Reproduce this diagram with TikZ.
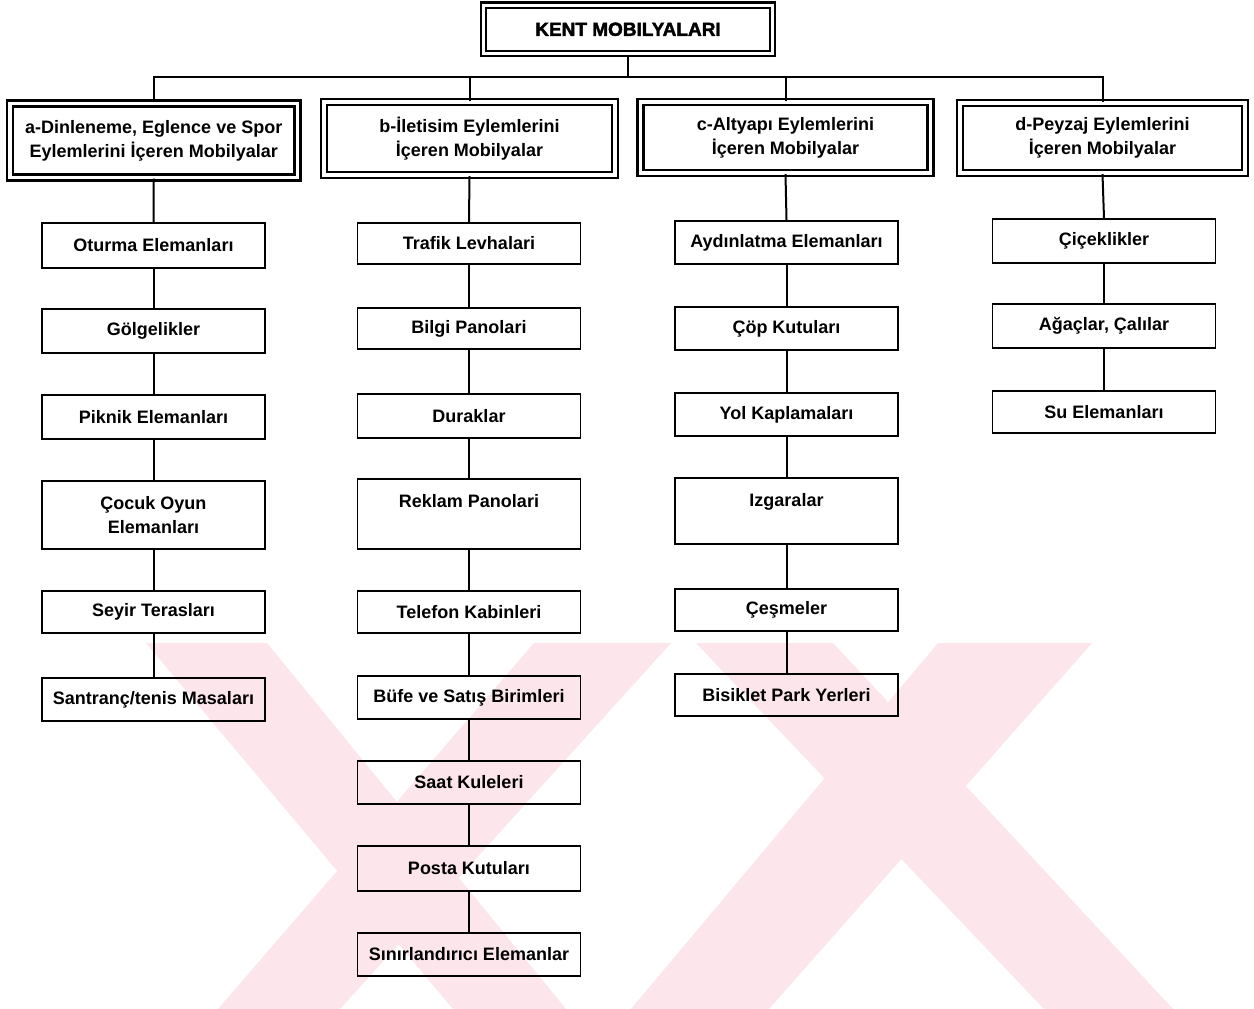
\documentclass[tikz,border=0pt]{standalone}
\usepackage{fontspec}
\setmainfont{Liberation Sans}
\newfontfamily\heavyfont{Liberation Sans Bold}[FakeBold=2.2]
\begin{document}
\begin{tikzpicture}[x=1pt,y=-1pt,
  wm/.style={fill={rgb,255:red,252;green,229;blue,235}, draw=none},
  conn/.style={line width=2pt},
  itembox/.style={draw, line width=1.8pt, minimum width=223pt, inner sep=0pt, align=center, anchor=north,
    font=\fontsize{18}{24}\selectfont\bfseries},
  catbox/.style={draw, double, double distance=3.5pt, line width=2.3pt, inner sep=0pt, align=center,
    font=\fontsize{18}{24}\selectfont\bfseries},
  titlebox/.style={draw, double, double distance=3pt, line width=2.2pt, inner sep=0pt, align=center,
    font=\fontsize{19}{24}\selectfont\heavyfont}
]
\useasboundingbox (0,0) rectangle (1254,1009);
\fill[white] (0,0) rectangle (1254,1009);
% watermark
\fill[wm] (146,643) -- (267,643) -- (566,1009) -- (453,1009) -- cycle;
\fill[wm] (534,643) -- (671,643) -- (340,1009) -- (218,1009) -- cycle;
\fill[wm] (696,643) -- (833,643) -- (1173,1009) -- (1044,1009) -- cycle;
\fill[wm] (938,643) -- (1092,643) -- (769,1009) -- (631,1009) -- cycle;

% title
\node[titlebox, minimum width=289pt, minimum height=48.5pt] (title) at (628,29.3) {KENT MOBILYALARI};

% categories
\node[catbox, minimum width=287.5pt, minimum height=74pt] (catA) at (153.75,140.5) {a-Dinleneme, Eglence ve Spor\\Eylemlerini İçeren Mobilyalar};
\node[catbox, minimum width=291pt, minimum height=73pt] (catB) at (469.5,138.5) {b-İletisim Eylemlerini\\İçeren Mobilyalar};
\node[catbox, minimum width=290pt, minimum height=71pt] (catC) at (785.5,137.5) {c-Altyapı Eylemlerini\\İçeren Mobilyalar};
\node[catbox, minimum width=285pt, minimum height=70pt] (catD) at (1102.5,138) {d-Peyzaj Eylemlerini\\İçeren Mobilyalar};

\coordinate (bar) at (628,77);
\draw[conn] (title.south) -- (bar);
\draw[conn] (catA.north) |- (bar) -| (catD.north);
\draw[conn] (catB.north) -- (catB.north |- bar);
\draw[conn] (catC.north) -- (catC.north |- bar);

% column a
\node[itembox, minimum height=45pt] (A1) at (153.5,222) {Oturma Elemanları};
\node[itembox, minimum height=44pt] (A2) at (153.5,308) {Gölgelikler};
\node[itembox, minimum height=44pt] (A3) at (153.5,394) {Piknik Elemanları};
\node[itembox, minimum height=68pt] (A4) at (153.5,480) {Çocuk Oyun\\Elemanları};
\node[itembox, minimum height=42pt] (A5) at (153.5,590) {Seyir Terasları};
\node[itembox, minimum height=43pt] (A6) at (153.5,677) {Santranç/tenis Masaları};

% column b
\node[itembox, minimum height=41pt] (B1) at (469,222) {Trafik Levhalari};
\node[itembox, minimum height=41pt] (B2) at (469,307) {Bilgi Panolari};
\node[itembox, minimum height=44pt] (B3) at (469,393) {Duraklar};
\node[itembox, text height=28.5pt, text depth=41.5pt] (B4) at (469,478) {Reklam Panolari};
\node[itembox, minimum height=42pt] (B5) at (469,590) {Telefon Kabinleri};
\node[itembox, minimum height=43pt] (B6) at (469,675) {Büfe ve Satış Birimleri};
\node[itembox, minimum height=43pt] (B7) at (469,760) {Saat Kuleleri};
\node[itembox, minimum height=45pt] (B8) at (469,845) {Posta Kutuları};
\node[itembox, minimum height=43pt] (B9) at (469,932) {Sınırlandırıcı Elemanlar};

% column c
\node[itembox, minimum height=43pt] (C1) at (786.5,220) {Aydınlatma Elemanları};
\node[itembox, minimum height=43pt] (C2) at (786.5,306) {Çöp Kutuları};
\node[itembox, minimum height=43pt] (C3) at (786.5,392) {Yol Kaplamaları};
\node[itembox, text height=28.5pt, text depth=37.5pt] (C4) at (786.5,477) {Izgaralar};
\node[itembox, minimum height=42pt] (C5) at (786.5,588) {Çeşmeler};
\node[itembox, minimum height=42pt] (C6) at (786.5,673) {Bisiklet Park Yerleri};

% column d
\node[itembox, minimum height=44pt] (D1) at (1104,218) {Çiçeklikler};
\node[itembox, minimum height=44pt] (D2) at (1104,303) {Ağaçlar, Çalılar};
\node[itembox, minimum height=42pt] (D3) at (1104,390) {Su Elemanları};

% connectors
\draw[conn] (catA.south) -- (A1.north);
\foreach \u/\v in {A1/A2,A2/A3,A3/A4,A4/A5,A5/A6} \draw[conn] (\u.south) -- (\v.north);
\draw[conn] (catB.south) -- (B1.north);
\foreach \u/\v in {B1/B2,B2/B3,B3/B4,B4/B5,B5/B6,B6/B7,B7/B8,B8/B9} \draw[conn] (\u.south) -- (\v.north);
\draw[conn] (catC.south) -- (C1.north);
\foreach \u/\v in {C1/C2,C2/C3,C3/C4,C4/C5,C5/C6} \draw[conn] (\u.south) -- (\v.north);
\draw[conn] (catD.south) -- (D1.north);
\foreach \u/\v in {D1/D2,D2/D3} \draw[conn] (\u.south) -- (\v.north);
\end{tikzpicture}
\end{document}
